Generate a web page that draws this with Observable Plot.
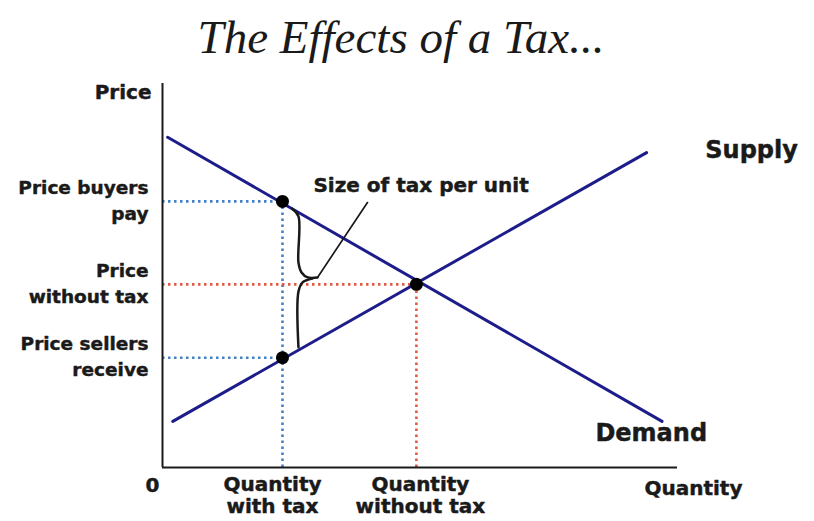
<!DOCTYPE html>
<html>
<head>
<meta charset="utf-8">
<script src="https://cdn.jsdelivr.net/npm/d3@7"></script>
<script src="https://cdn.jsdelivr.net/npm/@observablehq/plot@0.6"></script>
<style>
  html, body { margin: 0; padding: 0; background: #fff; }
  #title { width: 814px; height: 70px; line-height: 74px; text-align: center; padding-right: 12px; box-sizing: border-box;
           font-family: "Liberation Serif", "DejaVu Serif", serif; font-style: italic; font-size: 47px; color: #1a1a1a; }
</style>
</head>
<body>
<div id="title">The Effects of a Tax...</div>
<div id="chart"></div>
<script>
// ---- data (quantity and price in 0–100 units) ----
const demandQ = [1, 97];
const demandP = [86, 12];
const supplyQ = [2, 94];
const supplyP = [12, 82];
const eqQ = 49.3, eqP = 47.7;          // equilibrium without tax
const taxQ = 23.3;                     // quantity with tax
const buyerP = 69.3;                   // price buyers pay
const sellerP = 28.6;                  // price sellers receive
const yTickValues = [buyerP, eqP, sellerP];
const yTickLabels = ["Price buyers\npay", "Price\nwithout tax", "Price sellers\nreceive"];
const xTickValues = [taxQ, eqQ];
const xTickLabels = ["Quantity\nwith tax", "Quantity\nwithout tax"];
// brace showing the size of the tax (two halves meeting at the tip)
const braceHalf = ["top","top","top","top","top","top","bottom","bottom","bottom","bottom"];
const braceQ = [25.2, 26.4, 26.4, 27.0, 28.2, 30.1, 29.1, 27.2, 26.4, 26.4];
const braceP = [67.4, 65.4, 53.4, 50.8, 49.5, 49.5, 49.2, 48.2, 45.8, 31.3];
const leaderQ = [30.1, 39.8];
const leaderP = [49.5, 69.0];

const demand = demandQ.map((q, i) => ({q, p: demandP[i]}));
const supply = supplyQ.map((q, i) => ({q, p: supplyP[i]}));
const brace = braceQ.map((q, i) => ({q, p: braceP[i], h: braceHalf[i]}));
const leader = leaderQ.map((q, i) => ({q, p: leaderP[i]}));
const points = [{q: taxQ, p: buyerP}, {q: taxQ, p: sellerP}, {q: eqQ, p: eqP}];

const navy = "#1c1c8a";
const blueDot = "#4281c4";
const redDot = "#dd5a45";
const ink = "#1a1a1a";
const font = "DejaVu Sans, Verdana, sans-serif";
const bold = {fontWeight: "bold", fill: ink, stroke: ink, strokeWidth: 0.45};
const xTickShift = [-10, 4];

const chart = Plot.plot({
  width: 814,
  height: 451,
  marginLeft: 162,
  marginRight: 137,
  marginTop: 13,
  marginBottom: 54,
  x: {domain: [0, 100], axis: null},
  y: {domain: [0, 100], axis: null},
  style: {fontFamily: font, background: "#fff", overflow: "visible"},
  marks: [
    // dotted guides
    Plot.ruleY([buyerP, sellerP], {x1: 0, x2: taxQ, stroke: blueDot, strokeWidth: 2.6, strokeDasharray: "2.5,3.5"}),
    Plot.ruleX([taxQ], {y1: 0, y2: buyerP, stroke: blueDot, strokeWidth: 2.6, strokeDasharray: "2.5,3.5"}),
    Plot.ruleY([eqP], {x1: 0, x2: eqQ, stroke: redDot, strokeWidth: 2.6, strokeDasharray: "2.5,3.5"}),
    Plot.ruleX([eqQ], {y1: 0, y2: eqP, stroke: redDot, strokeWidth: 2.6, strokeDasharray: "2.5,3.5"}),
    // axes
    Plot.ruleX([0], {y1: 0, y2: 100, stroke: ink, strokeWidth: 2}),
    Plot.ruleY([0], {x1: 0, x2: 100, stroke: ink, strokeWidth: 2.2}),
    // supply & demand
    Plot.line(demand, {x: "q", y: "p", stroke: navy, strokeWidth: 3}),
    Plot.line(supply, {x: "q", y: "p", stroke: navy, strokeWidth: 3}),
    // brace and leader
    Plot.line(brace, {x: "q", y: "p", z: "h", curve: "catmull-rom", stroke: ink, strokeWidth: 2.5}),
    Plot.line(leader, {x: "q", y: "p", stroke: ink, strokeWidth: 1.7}),
    // points
    Plot.dot(points, {x: "q", y: "p", r: 6.5, fill: "#000"}),
    // y tick labels
    Plot.text(yTickValues, {x: 0, y: d => d, text: (d, i) => yTickLabels[i], textAnchor: "end", lineAnchor: "middle",
      dx: -14, dy: -3, fontSize: 18.5, lineHeight: 1.4, ...bold}),
    // x tick labels (one mark each so that each gets its own horizontal shift)
    ...xTickValues.map((v, i) => Plot.text([v], {x: d => d, y: 0, text: () => xTickLabels[i], textAnchor: "middle",
      lineAnchor: "top", dx: xTickShift[i], dy: 8, fontSize: 20, lineHeight: 1.1, ...bold})),
    // axis labels
    Plot.text(["Price"], {x: 0, y: 100, text: d => d, textAnchor: "end", lineAnchor: "middle", dx: -11, dy: 9,
      fontSize: 20, ...bold}),
    Plot.text(["Quantity"], {x: 103.1, y: 0, text: d => d, textAnchor: "middle", lineAnchor: "middle", dy: 21,
      fontSize: 20, ...bold}),
    Plot.text(["0"], {x: 0, y: 0, text: d => d, textAnchor: "middle", lineAnchor: "middle", dx: -10, dy: 18,
      fontSize: 20, ...bold}),
    // curve labels
    Plot.text(["Supply"], {x: 105.4, y: 82.6, text: d => d, textAnchor: "start", lineAnchor: "middle",
      fontSize: 24, ...bold}),
    Plot.text(["Demand"], {x: 94.9, y: 8.85, text: d => d, textAnchor: "middle", lineAnchor: "middle",
      fontSize: 24, ...bold}),
    Plot.text(["Size of tax per unit"], {x: 29.3, y: 73.4, text: d => d, textAnchor: "start", lineAnchor: "middle",
      fontSize: 20, ...bold})
  ]
});
document.getElementById("chart").appendChild(chart);
</script>
</body>
</html>
